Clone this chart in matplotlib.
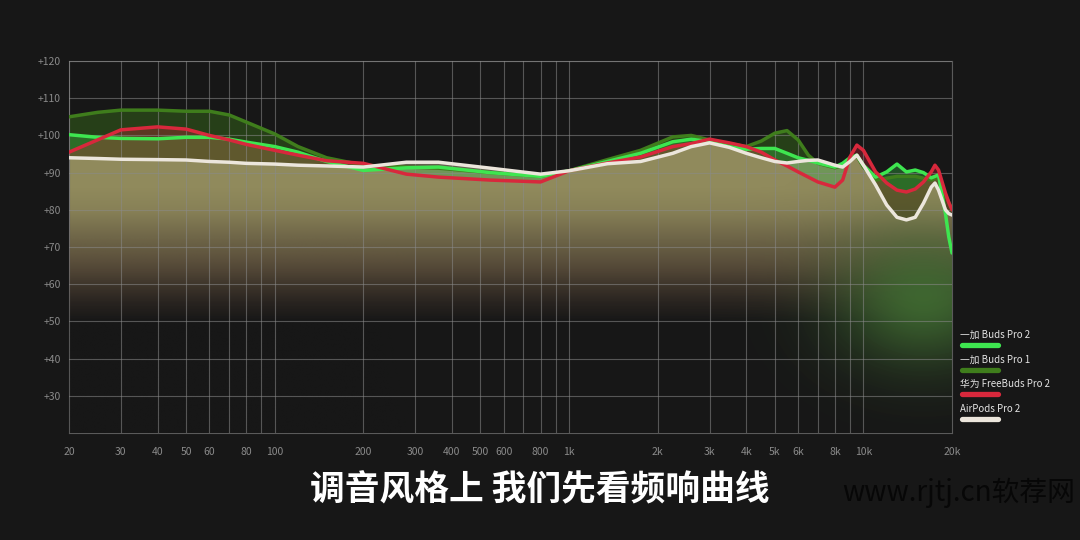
import numpy as np
import matplotlib
matplotlib.use('Agg')
import matplotlib.pyplot as plt
from matplotlib.patches import Polygon
from matplotlib.lines import Line2D

plt.rcParams['font.family'] = ['Noto Sans CJK SC', 'DejaVu Sans']

# frequency points (Hz)
freq = [20, 25, 30, 40, 50, 60, 70, 80, 100, 120, 150, 200, 280, 360, 540, 800,
        1000, 1350, 1750, 2250, 2600, 3000, 3500, 4000, 4500, 5000, 5500, 6000,
        6500, 7000, 8000, 8500, 9000, 9500, 10000, 11000, 12000, 13000, 14000,
        15000, 16000, 17000, 17500, 18000, 19000, 19500, 20000]

buds2 = [100.2, 99.5, 99.2, 99.1, 99.5, 99.5, 99.0, 98.2, 97.0, 95.5, 93.0, 90.6,
         91.3, 91.5, 90.0, 89.0, 90.5, 93.0, 95.2, 98.3, 99.0, 98.3, 97.0, 96.3,
         96.5, 96.5, 95.2, 94.0, 93.3, 92.6, 91.5, 92.5, 94.0, 94.7, 92.0, 88.8,
         90.2, 92.3, 90.2, 90.7, 90.0, 88.6, 89.0, 89.4, 79.0, 72.7, 68.4]

buds1 = [105.0, 106.2, 106.8, 106.8, 106.5, 106.5, 105.5, 103.6, 100.4, 97.0, 94.0, 92.0,
         91.5, 91.2, 90.0, 89.0, 90.5, 93.5, 96.0, 99.6, 100.0, 98.8, 97.8, 97.0,
         98.5, 100.6, 101.3, 98.8, 94.7, 92.5, 91.3, 92.0, 93.5, 94.5, 91.5, 88.0,
         88.5, 89.0, 89.0, 89.0, 88.5, 88.0, 88.5, 89.0, 84.0, 82.0, 80.0]

freebuds = [95.5, 98.8, 101.5, 102.3, 101.7, 100.0, 98.8, 97.6, 96.0, 94.7, 93.2, 92.5,
            89.6, 88.8, 88.0, 87.5, 90.5, 92.6, 94.2, 97.0, 97.8, 99.0, 98.0, 97.0,
            95.5, 93.4, 91.8, 90.2, 88.8, 87.5, 86.1, 88.0, 94.2, 97.4, 96.0, 90.2,
            87.2, 85.3, 84.8, 85.6, 87.5, 90.2, 92.0, 90.7, 84.5, 82.0, 80.0]

airpods = [94.0, 93.8, 93.6, 93.5, 93.4, 93.0, 92.8, 92.5, 92.3, 92.0, 91.8, 91.5,
           92.8, 92.8, 91.2, 89.6, 90.5, 92.4, 93.0, 95.2, 97.0, 98.0, 96.8, 95.2,
           94.0, 93.0, 92.6, 93.0, 93.3, 93.4, 92.0, 91.5, 93.0, 94.7, 92.0, 86.7,
           81.3, 78.0, 77.3, 78.0, 81.8, 86.1, 87.2, 85.3, 80.0, 79.0, 78.6]

names = ['一加 Buds Pro 2', '一加 Buds Pro 1', '华为 FreeBuds Pro 2', 'AirPods Pro 2']
colors = ['#3ee650', '#3f7d1c', '#d8283c', '#ece6dc']

xticks = [20, 30, 40, 50, 60, 80, 100, 200, 300, 400, 500, 600, 800,
          1000, 2000, 3000, 4000, 5000, 6000, 8000, 10000, 20000]
xlabels = ['20', '30', '40', '50', '60', '80', '100', '200', '300', '400', '500', '600', '800',
           '1k', '2k', '3k', '4k', '5k', '6k', '8k', '10k', '20k']
yticks = [30, 40, 50, 60, 70, 80, 90, 100, 110, 120]

lf = np.log10(freq)
x0, x1 = np.log10(20), np.log10(20000)

bg = '#171717'
fig = plt.figure(figsize=(10.8, 5.4), dpi=100, facecolor=bg)
ax = fig.add_axes([0.0639, 0.198, 0.8176, 0.689])
ax.set_facecolor(bg)
ax.set_xlim(x0, x1)
ax.set_ylim(20, 120)

series = [buds1, buds2, freebuds, airpods]
scol = [colors[1], colors[0], colors[2], colors[3]]
fcol = [colors[1], colors[0], colors[2], '#e1dcaa']
alphas = [0.4, 0.28, 0.3, 0.38]
for ys, c, a in zip(series, fcol, alphas):
    ax.fill_between(lf, ys, 20, color=c, alpha=a, lw=0, zorder=2)

# fade to background under the curves, with a green glow at the top end
env = np.max(np.array(series), axis=0)
verts = list(zip(lf, env)) + [(x1, 20), (x0, 20)]
clip = Polygon(verts, closed=True, transform=ax.transData, facecolor='none', edgecolor='none')
ax.add_patch(clip)

ny, nx = 250, 400
yy = np.linspace(120, 20, ny)[:, None]
xx = np.linspace(x0, x1, nx)[None, :]
dark = np.interp(yy, [20, 50, 55, 60, 65, 70, 75, 80, 86, 120],
                 [1.0, 1.0, 0.95, 0.85, 0.7, 0.5, 0.3, 0.1, 0.0, 0.0]) * np.ones_like(xx)
# fade colour: slightly warm in the middle band, background lower down
fr = np.interp(yy, [20, 50, 56, 65, 120], [23, 23, 38, 62, 62]) / 255 * np.ones_like(xx)
fg = np.interp(yy, [20, 50, 56, 65, 120], [23, 23, 32, 48, 48]) / 255 * np.ones_like(xx)
fb = np.interp(yy, [20, 50, 56, 65, 120], [23, 23, 30, 42, 42]) / 255 * np.ones_like(xx)
glow = 0.9 * np.exp(-((xx - np.log10(16000)) ** 2 / 0.3 ** 2 + (yy - 56) ** 2 / 18 ** 2))
gc = np.array([55, 105, 45]) / 255
a_out = dark * (1 - glow) + glow * 0.9
img = np.zeros((ny, nx, 4))
for k, fc in enumerate((fr, fg, fb)):
    img[..., k] = (fc * dark * (1 - glow) + gc[k] * glow * 0.9) / np.maximum(a_out, 1e-6)
img[..., 3] = a_out
im = ax.imshow(img, extent=(x0, x1, 20, 120), aspect='auto', zorder=3, interpolation='bilinear')
im.set_clip_path(clip)

# grid: every integer multiple, drawn over the fill
grid_f = [m * 10 ** e for e in (1, 2, 3) for m in range(1, 10)] + [10000, 20000]
grid_f = [g for g in grid_f if 20 <= g <= 20000]
for g in grid_f:
    ax.axvline(np.log10(g), color='#8a8a8a', alpha=0.55, lw=0.8, zorder=4)
for yv in yticks:
    ax.axhline(yv, color='#8a8a8a', alpha=0.55, lw=0.8, zorder=4)

for ys, c in zip(series, scol):
    ax.plot(lf, ys, color=c, lw=2.5, zorder=5, solid_capstyle='round')

for s in ax.spines.values():
    s.set_color('#5a5a5a')
    s.set_linewidth(0.8)
ax.set_xticks(np.log10(xticks))
ax.set_xticklabels(xlabels)
ax.set_yticks(yticks)
ax.set_yticklabels(['+%d' % v for v in yticks])
ax.tick_params(length=0, colors='#8a8a8a', labelsize=7.5)
ax.tick_params(axis='x', pad=10)
ax.tick_params(axis='y', pad=6)

# legend
leg_y = [335, 360, 384, 409]
for name, c, ty in zip(names, colors, leg_y):
    fig.text(960 / 1080, 1 - ty / 540, name, color='#e2e2e2', fontsize=7, va='center', ha='left')
    by = 1 - (ty + 9.5) / 540
    fig.add_artist(Line2D([962 / 1080, 998 / 1080], [by, by], color=c, lw=3.8,
                          solid_capstyle='round', transform=fig.transFigure))

fig.text(540 / 1080, 1 - 490 / 540, '调音风格上 我们先看频响曲线', color='white',
         fontsize=25, fontweight='bold', ha='center', va='center')
fig.text(1075 / 1080, 1 - 493 / 540, 'www.rjtj.cn软荐网', color='#070707',
         fontsize=20, ha='right', va='center')

fig.savefig('out.png', dpi=100, facecolor=bg)
